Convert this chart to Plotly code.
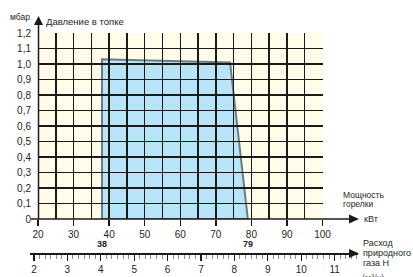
import plotly.graph_objects as go

# ---- data ----
power_kw = [38, 38, 74, 79]            # burner power, kW (polygon corners)
pressure_mbar = [0, 1.03, 1.01, 0]     # furnace pressure, mbar
x_ticks = [20, 30, 40, 50, 60, 70, 80, 90, 100]
y_ticks = [0, 0.1, 0.2, 0.3, 0.4, 0.5, 0.6, 0.7, 0.8, 0.9, 1.0, 1.1, 1.2]
y_tick_labels = ["0", "0,1", "0,2", "0,3", "0,4", "0,5", "0,6", "0,7", "0,8",
                 "0,9", "1,0", "1,1", "1,2"]
gas_ticks = [2, 3, 4, 5, 6, 7, 8, 9, 10, 11]
range_marks = [38, 79]

# ---- layout geometry (pixels) ----
W, H = 413, 277
P_L, P_R, P_T, P_B = 30, 358, 33, 253
X0_PX, X100_PX, Y0_PX = 38, 322.5, 219
GAS2_PX, GAS_PX_PER_UNIT = 34, 33.4


def PX(p):
    return (p - P_L) / (P_R - P_L)


def PY(p):
    return (P_B - p) / (P_B - P_T)


FONT = "Liberation Sans"
TXT = "#231f20"
GRID = "#1a1a1a"

fig = go.Figure()

# invisible trace to anchor the main axes
fig.add_trace(go.Scatter(x=power_kw, y=pressure_mbar, mode="lines",
                         line=dict(width=0), hoverinfo="skip", showlegend=False,
                         xaxis="x", yaxis="y"))
# invisible trace to show the gas axis
fig.add_trace(go.Scatter(x=gas_ticks, y=[0] * len(gas_ticks), mode="markers",
                         marker=dict(opacity=0), hoverinfo="skip", showlegend=False,
                         xaxis="x2", yaxis="y2"))

shapes = []
# cream plot background
shapes.append(dict(type="rect", xref="x domain", yref="y domain", x0=0, x1=1, y0=0, y1=1,
                   fillcolor="#fffce9", line=dict(width=0), layer="below"))
# working range polygon
path = "M " + " L ".join(f"{x},{y}" for x, y in zip(power_kw, pressure_mbar)) + " Z"
shapes.append(dict(type="path", xref="x", yref="y", path=path,
                   fillcolor="#b9e3f7", line=dict(color="#6c7b83", width=2), layer="below"))
# main x axis line with arrow
shapes.append(dict(type="line", xref="paper", yref="paper", x0=PX(31), x1=PX(351),
                   y0=PY(Y0_PX), y1=PY(Y0_PX), line=dict(color=GRID, width=1.5)))
shapes.append(dict(type="path", xref="paper", yref="paper",
                   path=f"M {PX(349)},{PY(214.5)} L {PX(359)},{PY(219)} L {PX(349)},{PY(223.5)} Z",
                   fillcolor=GRID, line=dict(width=0)))
# y axis line with arrow
shapes.append(dict(type="line", xref="paper", yref="paper", x0=PX(X0_PX + 0.5), x1=PX(X0_PX + 0.5),
                   y0=PY(Y0_PX), y1=PY(24), line=dict(color=GRID, width=1.5)))
shapes.append(dict(type="path", xref="paper", yref="paper",
                   path=f"M {PX(34)},{PY(25)} L {PX(38.5)},{PY(16)} L {PX(43)},{PY(25)} Z",
                   fillcolor=GRID, line=dict(width=0)))
# gas axis arrow head
shapes.append(dict(type="path", xref="paper", yref="paper",
                   path=f"M {PX(349)},{PY(249)} L {PX(359)},{PY(253.5)} L {PX(349)},{PY(258)} Z",
                   fillcolor=GRID, line=dict(width=0)))

annotations = []


def txt(text, x, y, size=9, xanchor="left", yanchor="middle", bold=False, color=TXT, xref="paper"):
    annotations.append(dict(text=f"<b>{text}</b>" if bold else text, x=x, y=y, xref=xref,
                            yref="paper", xanchor=xanchor, yanchor=yanchor, showarrow=False,
                            borderpad=0,
                            font=dict(family=FONT, size=size, color=color)))


txt("мбар", PX(31), PY(16.5), size=8.5, xanchor="right")
txt("Давление в топке", PX(45), PY(21.5), size=9.5)
txt("Мощность", PX(342), PY(195), size=8.5)
txt("горелки", PX(342), PY(204), size=8.5)
txt("кВт", PX(363), PY(218.5), size=9)
txt("Расход", PX(362), PY(243), size=9)
txt("природного", PX(362), PY(253), size=9)
txt("газа H", PX(362), PY(263), size=9)
txt("(м³/ч)", PX(361), PY(272), size=9, yanchor="top", color="#555")
for v in range_marks:
    annotations.append(dict(text=f"<b>{v}</b>", x=v, y=PY(244), xref="x", yref="paper",
                            xanchor="center", yanchor="middle", showarrow=False, borderpad=0,
                            font=dict(family=FONT, size=9, color=TXT)))

gas_lo = 2 + (P_L - GAS2_PX) / GAS_PX_PER_UNIT
gas_hi = 2 + (P_R - GAS2_PX) / GAS_PX_PER_UNIT

fig.update_layout(
    template="none",
    width=W, height=H,
    margin=dict(l=P_L, r=W - P_R, t=P_T, b=H - P_B, pad=0, autoexpand=False),
    paper_bgcolor="white",
    plot_bgcolor="rgba(0,0,0,0)",
    showlegend=False,
    separators=", ",
    font=dict(family=FONT, size=10, color=TXT),
    xaxis=dict(
        domain=[PX(X0_PX), PX(X100_PX)], range=[20, 100], anchor="y", automargin=False,
        tickvals=x_ticks, ticks="outside", ticklen=6, tickcolor=GRID, tickwidth=1.5,
        showgrid=True, gridcolor=GRID, gridwidth=1.5,
        minor=dict(dtick=5, tick0=0, showgrid=True, gridcolor=GRID, gridwidth=1.5, ticks=""),
        showline=False, zeroline=False,
        tickfont=dict(family=FONT, size=10, color=TXT),
    ),
    yaxis=dict(
        domain=[PY(Y0_PX), 1], range=[0, 1.2], anchor="x", automargin=False,
        tickvals=y_ticks, ticktext=y_tick_labels, ticks="", ticklabelstandoff=6,
        showgrid=True, gridcolor=GRID, gridwidth=1.5,
        showline=False, zeroline=False,
        tickfont=dict(family=FONT, size=10, color=TXT),
    ),
    xaxis2=dict(
        domain=[0, 1], range=[gas_lo, gas_hi], anchor="y2", automargin=False,
        tickvals=gas_ticks, ticks="outside", ticklen=6, tickcolor=GRID, tickwidth=1.2,
        minor=dict(dtick=1 / 6, tick0=0, ticks="outside", ticklen=4, tickcolor="#888888",
                   tickwidth=1, showgrid=False),
        showline=True, linecolor=GRID, linewidth=1.5,
        showgrid=False, zeroline=False,
        tickfont=dict(family=FONT, size=10, color=TXT),
    ),
    yaxis2=dict(domain=[0, 0.05], range=[0, 1], anchor="x2", visible=False),
    shapes=shapes,
    annotations=annotations,
)

fig.write_html("out.html", config={"displayModeBar": False, "staticPlot": True},
               post_script="document.body.style.margin='0';document.body.style.padding='0';")
